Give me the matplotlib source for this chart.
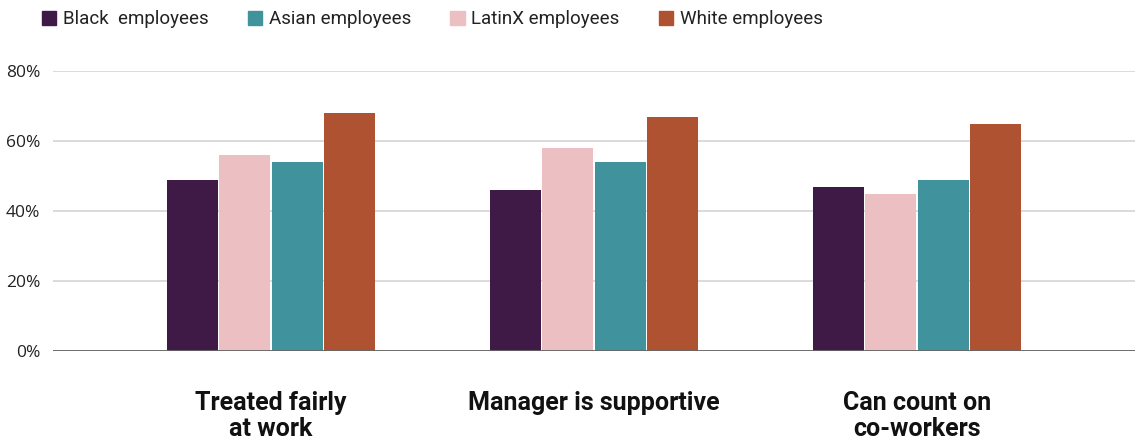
import numpy as np
import matplotlib.pyplot as plt
from matplotlib.patches import Patch

categories = ['Treated fairly\nat work', 'Manager is supportive', 'Can count on\nco-workers']
black = [49, 46, 47]
latinx = [56, 58, 45]
asian = [54, 54, 49]
white = [68, 67, 65]

series = [
    ('Black  employees', black, '#3f1a47'),
    ('LatinX employees', latinx, '#ecbfc2'),
    ('Asian employees', asian, '#40929d'),
    ('White employees', white, '#ae5232'),
]

plt.rcParams['font.family'] = ['Roboto', 'DejaVu Sans']

fig = plt.figure(figsize=(11.35, 4.42), dpi=100)
ax = fig.add_axes([53 / 1135, 91 / 442, 1 - 53 / 1135, 280 / 442])

x = np.arange(len(categories))
slot = 0.1625
handles = {}
for i, (name, vals, col) in enumerate(series):
    ax.bar(x + (i - 1.5) * slot, vals, width=slot - 0.006, color=col, zorder=3)
    handles[name] = Patch(color=col, label=name)

ax.set_xlim(-0.675, 2.675)
ax.set_ylim(0, 80)
ax.set_yticks([0, 20, 40, 60, 80])
ax.set_yticklabels([f'{v}%' for v in [0, 20, 40, 60, 80]], family=['Open Sans', 'DejaVu Sans'],
                   fontsize=12.5, color='#222222')
ax.set_xticks(x)
ax.set_xticklabels(categories, fontsize=18, fontweight='bold', color='#111111', linespacing=1.1)
ax.tick_params(axis='x', length=0, pad=29)
ax.tick_params(axis='y', length=0, pad=9)

ax.grid(axis='y', color='#d4d4d4', linewidth=1.2, zorder=0)
ax.axhline(0, color='#666666', linewidth=1.3, zorder=4)
for s in ax.spines.values():
    s.set_visible(False)

order = ['Black  employees', 'Asian employees', 'LatinX employees', 'White employees']
fig.legend(handles=[handles[n] for n in order], loc='upper left', bbox_to_anchor=(0.022, 1.015),
           ncol=4, frameon=False, fontsize=13.5, handlelength=0.75, handleheight=0.75,
           handletextpad=0.37, columnspacing=2.1, labelcolor='#222222')

fig.savefig('out.png', dpi=100)
